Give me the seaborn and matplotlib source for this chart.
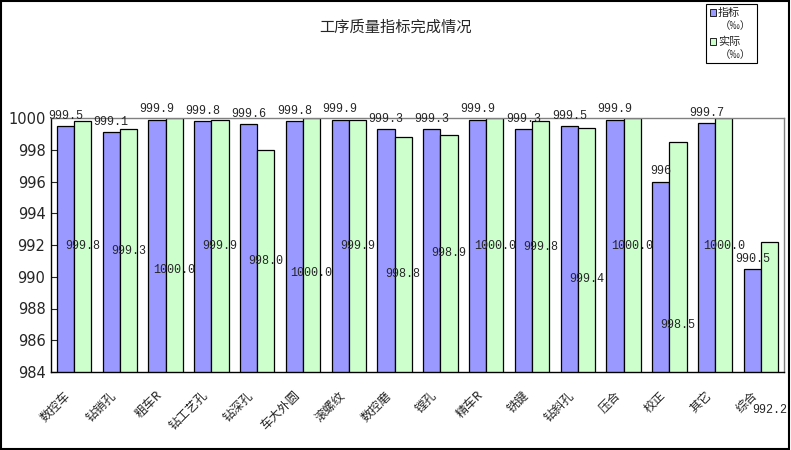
import pandas as pd
import numpy as np
import matplotlib
matplotlib.use('Agg')
import matplotlib.pyplot as plt
import matplotlib.transforms as mtrans
from matplotlib.patches import Rectangle
import seaborn as sns

# process names and the two series (per-mille)
processes = ['数控车', '钻销孔', '粗车R', '钻工艺孔', '钻深孔', '车大外圆', '滚螺纹', '数控磨',
             '镗孔', '精车R', '铣键', '钻斜孔', '压合', '校正', '其它', '综合']
plan = [999.5, 999.1, 999.9, 999.8, 999.6, 999.8, 999.9, 999.3,
        999.3, 999.9, 999.3, 999.5, 999.9, 996.0, 999.7, 990.5]
actual = [999.8, 999.3, 1000.0, 999.9, 998.0, 1000.0, 999.9, 998.8,
          998.9, 1000.0, 999.8, 999.4, 1000.0, 998.5, 1000.0, 992.2]
plan_text = ['999.5', '999.1', '999.9', '999.8', '999.6', '999.8', '999.9', '999.3',
             '999.3', '999.9', '999.3', '999.5', '999.9', '996', '999.7', '990.5']
actual_text = ['999.8', '999.3', '1000.0', '999.9', '998.0', '1000.0', '999.9', '998.8',
               '998.9', '1000.0', '999.8', '999.4', '1000.0', '998.5', '1000.0', '992.2']
series_names = ['指标', '实际']
yticks = [984, 986, 988, 990, 992, 994, 996, 998, 1000]

# where the (dragged) labels of the actual series sit, in axis units
actual_label_y = [991.96, 991.62, 990.43, 991.96, 990.99, 990.24, 991.96, 990.17,
                  991.50, 991.94, 991.87, 989.86, 991.94, 986.96, 991.94, 981.6]

df = pd.DataFrame({
    '工序': processes * 2,
    '类别': [series_names[0]] * len(processes) + [series_names[1]] * len(processes),
    '值': plan + actual,
})

sns.set_style('white')
plt.rcParams['font.family'] = ['Noto Sans CJK SC', 'DejaVu Sans']

blue = '#9999FF'
green = '#CCFFCC'

fig = plt.figure(figsize=(7.91, 4.5), dpi=100)
ax = fig.add_axes([51 / 791, 1 - 372 / 450, 733 / 791, 254 / 450])

sns.barplot(data=df, x='工序', y='值', hue='类别', palette=[blue, green],
            edgecolor='black', linewidth=0.9, width=0.75, saturation=1,
            legend=False, ax=ax)

ax.set_ylim(984, 1000)
ax.set_xlim(-0.5, len(processes) - 0.5)
ax.set_yticks(yticks)
ax.set_yticklabels([str(t) for t in yticks], family='DejaVu Sans', fontsize=10.5)
ax.set_xlabel('')
ax.set_ylabel('')

# x labels rotated, ticks only at the category boundaries
ax.set_xticks(range(len(processes)))
ax.set_xticklabels(processes, rotation=45, ha='right', va='top',
                   rotation_mode='anchor', fontsize=8.8)
ax.set_xticks(np.arange(-0.5, len(processes)), minor=True)
ax.tick_params(axis='x', which='major', length=0, pad=10)
ax.tick_params(axis='x', which='minor', direction='in', length=3, width=0.8)
ax.tick_params(axis='y', direction='in', length=4, width=0.8, left=True, pad=4)

# nudge the rotated labels down and left like the original
shift = mtrans.ScaledTranslation(-10 / 100, -3 / 100, fig.dpi_scale_trans)
for lbl in ax.get_xticklabels():
    lbl.set_transform(lbl.get_transform() + shift)

for side in ['left', 'bottom']:
    ax.spines[side].set_color('black')
    ax.spines[side].set_linewidth(1.0)
for side in ['top', 'right']:
    ax.spines[side].set_color('#808080')
    ax.spines[side].set_linewidth(1.0)

# value labels
ax.bar_label(ax.containers[0], labels=plan_text, padding=3,
             fontsize=8.5, family='Liberation Mono')
for rect, txt, ly in zip(ax.containers[1], actual_text, actual_label_y):
    cx = rect.get_x() + rect.get_width() / 2
    ax.text(cx, ly, txt, ha='center', va='center', fontsize=8.5,
            family='Liberation Mono', clip_on=False)

# title
fig.text(0.5, 1 - 27 / 450, '工序质量指标完成情况', ha='center', va='center', fontsize=11)

# hand-made legend box in the top right corner
W, H = 791, 450
fig.patches.append(Rectangle((706 / W, 1 - 63 / H), 51 / W, 59 / H, transform=fig.transFigure,
                             fill=False, edgecolor='black', linewidth=0.8))
for i, (name, col) in enumerate(zip(series_names, [blue, green])):
    top = 9 + i * 29
    fig.patches.append(Rectangle((710 / W, 1 - (top + 7) / H), 6 / W, 7 / H,
                                 transform=fig.transFigure, facecolor=col,
                                 edgecolor='black', linewidth=0.6))
    fig.text(718 / W, 1 - (top + 3.5) / H, name, ha='left', va='center', fontsize=8)
    fig.text(720 / W, 1 - (top + 17) / H, '（‰）', ha='left', va='center', fontsize=7.5)

# outer frame of the chart
fig.patches.append(Rectangle((0.001, 0.002), 0.997, 0.996, transform=fig.transFigure,
                             fill=False, edgecolor='black', linewidth=1.5))

fig.savefig('out.png', dpi=100)
